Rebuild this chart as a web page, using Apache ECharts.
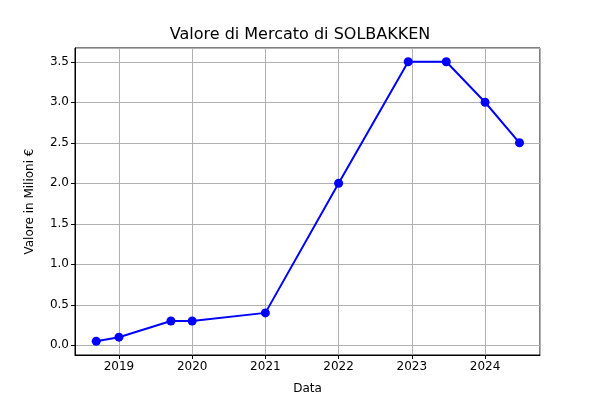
<!DOCTYPE html>
<html>
<head>
<meta charset="utf-8">
<script src="https://cdn.jsdelivr.net/npm/echarts@6/dist/echarts.min.js"></script>
<style>html,body{margin:0;padding:0;background:#fff}#chart{width:600px;height:400px}</style>
</head>
<body>
<div id="chart"></div>
<script>
// date as decimal year, value in millions of euro
var dates = [2018.69, 2019.0, 2019.71, 2020.0, 2021.0, 2022.0, 2022.95, 2023.47, 2024.0, 2024.47];
var values = [0.05, 0.1, 0.3, 0.3, 0.4, 2.0, 3.5, 3.5, 3.0, 2.5];

(function () {
  var myChart = echarts.init(document.querySelector("#chart"));
  var font = "DejaVu Sans";
  var data = dates.map(function (d, i) { return [d, values[i]]; });
  var option = {
    animation: false,
    textStyle: { fontFamily: font },
    title: {
      text: "Valore di Mercato di SOLBAKKEN",
      left: "center",
      top: 22,
      textStyle: { fontFamily: font, fontSize: 16, fontWeight: "normal", color: "#000" },
    },
    grid: { left: 75, right: 60, top: 48, bottom: 44, show: true, borderColor: "#000", borderWidth: 1 },
    xAxis: {
      type: "value",
      min: 2018.4,
      max: 2024.75,
      splitNumber: 6,
      name: "Data",
      nameLocation: "middle",
      nameGap: 28,
      nameTextStyle: { fontFamily: font, fontSize: 12, color: "#000" },
      axisLine: { onZero: false, lineStyle: { color: "#000" } },
      axisTick: { lineStyle: { color: "#000" }, length: 4 },
      axisLabel: {
        color: "#000", fontSize: 12, fontFamily: font, margin: 6,
        showMinLabel: false, showMaxLabel: false,
        formatter: function (v) { return Math.round(v); },
      },
      splitLine: { show: true, lineStyle: { color: "#b0b0b0" } },
    },
    yAxis: {
      type: "value",
      min: -0.12,
      max: 3.67,
      splitNumber: 8,
      name: "Valore in Milioni €",
      nameLocation: "middle",
      nameGap: 39,
      nameTextStyle: { fontFamily: font, fontSize: 12, color: "#000" },
      axisLine: { show: true, onZero: false, lineStyle: { color: "#000" } },
      axisTick: { show: true, lineStyle: { color: "#000" }, length: 4 },
      axisLabel: {
        color: "#000", fontSize: 12, fontFamily: font, margin: 6,
        showMinLabel: false, showMaxLabel: false,
        formatter: function (v) { return v.toFixed(1); },
      },
      splitLine: { show: true, lineStyle: { color: "#b0b0b0" } },
    },
    series: [
      {
        type: "line",
        data: data,
        symbol: "circle",
        symbolSize: 9,
        itemStyle: { color: "#0000ff" },
        lineStyle: { color: "#0000ff", width: 2 },
      },
    ],
  };
  myChart.setOption(option);
})();
</script>
</body>
</html>
